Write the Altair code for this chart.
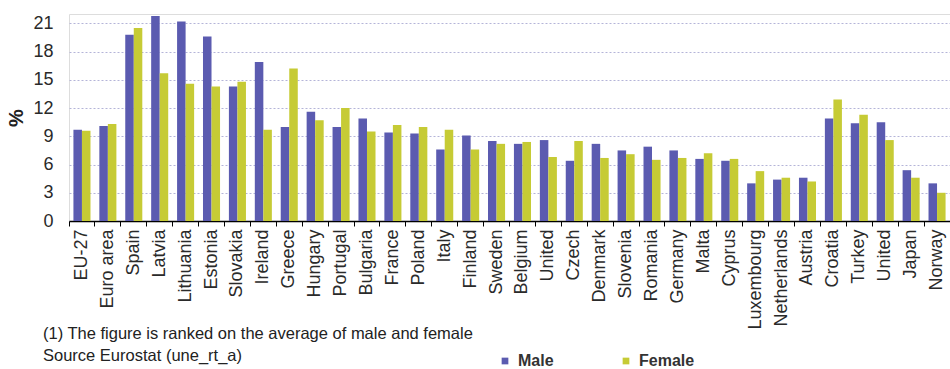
import altair as alt
import pandas as pd

# Unemployment rate by sex, 2012 (%), ranked on the male/female average
countries = [
    "EU-27", "Euro area", "Spain", "Latvia", "Lithuania", "Estonia", "Slovakia",
    "Ireland", "Greece", "Hungary", "Portugal", "Bulgaria", "France", "Poland",
    "Italy", "Finland", "Sweden", "Belgium", "United Kingdom", "Czech Republic",
    "Denmark", "Slovenia", "Romania", "Germany", "Malta", "Cyprus", "Luxembourg",
    "Netherlands", "Austria", "Croatia", "Turkey", "United States", "Japan", "Norway",
]
male = [
    9.7, 10.1, 19.8, 21.8, 21.2, 19.6, 14.3, 16.9, 10.0, 11.6, 10.0, 10.9, 9.4, 9.3,
    7.6, 9.1, 8.5, 8.2, 8.6, 6.4, 8.2, 7.5, 7.9, 7.5, 6.6, 6.4, 4.0, 4.4, 4.6,
    10.9, 10.4, 10.5, 5.4, 4.0,
]
female = [
    9.6, 10.3, 20.5, 15.7, 14.6, 14.3, 14.8, 9.7, 16.2, 10.7, 12.0, 9.5, 10.2, 10.0,
    9.7, 7.6, 8.2, 8.4, 6.8, 8.5, 6.7, 7.1, 6.5, 6.7, 7.2, 6.6, 5.3, 4.6, 4.2,
    12.9, 11.3, 8.6, 4.6, 3.0,
]
series = ["Male", "Female"]
series_colors = ["#5b5bb0", "#c6cb35"]
y_ticks = [0, 3, 6, 9, 12, 15, 18, 21]
note_ranking = "(1) The figure is ranked on the average of male and female"
note_source = "Source  Eurostat (une_rt_a)"

rows = []
for c, m, f in zip(countries, male, female):
    rows.append({"country": c, "sex": "Male", "rate": m})
    rows.append({"country": c, "sex": "Female", "rate": f})
df = pd.DataFrame(rows)

SANS = "Liberation Sans, Arial, sans-serif"

# long names are cut to their first word on the axis
short_label = "test(/^(United|Czech) /, datum.label) ? split(datum.label, ' ')[0] : datum.label"

bars = alt.Chart(df).mark_bar().encode(
    x=alt.X(
        "country:N", sort=countries, title=None,
        scale=alt.Scale(paddingInner=0, paddingOuter=0),
        axis=alt.Axis(
            labelAngle=270, labelExpr=short_label, bandPosition=0,
            tickSize=5, tickColor="black", domainColor="black", domainWidth=1.5,
            labelFont=SANS, labelFontSize=18, labelColor="#2a2a2a", labelPadding=3,
            grid=False,
        ),
    ),
    xOffset=alt.XOffset(
        "sex:N", sort=series,
        scale=alt.Scale(domain=series, paddingOuter=0.52, paddingInner=0),
    ),
    y=alt.Y(
        "rate:Q", title="%",
        scale=alt.Scale(domain=[0, 22], nice=False),
        axis=alt.Axis(
            values=y_ticks, domain=False, ticks=False, grid=True,
            gridDash=[2, 2], gridColor="#b4b4d8",
            labelFont=SANS, labelFontSize=18, labelColor="#2a2a2a", labelPadding=16,
            titleFont=SANS, titleFontWeight="bold", titleFontSize=20,
            titleColor="#222", titlePadding=6,
        ),
    ),
    color=alt.Color(
        "sex:N",
        scale=alt.Scale(domain=series, range=series_colors),
        legend=alt.Legend(
            orient="none", legendX=428, legendY=339, direction="horizontal",
            title=None, symbolType="square", symbolSize=45, symbolStrokeWidth=0,
            labelFont=SANS, labelFontWeight="bold", labelFontSize=16,
            labelColor="#333", labelOffset=5, columnPadding=64, padding=0,
        ),
    ),
)

ranking = alt.Chart(pd.DataFrame({"note": [note_ranking]})).mark_text(
    align="left", baseline="alphabetic", font=SANS, fontSize=16.5, color="#222"
).encode(text="note:N", x=alt.value(-26), y=alt.value(325))

source = alt.Chart(pd.DataFrame({"note": [note_source]})).mark_text(
    align="left", baseline="alphabetic", font=SANS, fontSize=16.5, color="#222"
).encode(text="note:N", x=alt.value(-26), y=alt.value(347))

chart = alt.layer(bars, ranking, source).properties(
    width=881, height=207,
    autosize=alt.AutoSizeParams(type="none"),
    padding={"left": 69, "top": 14, "right": 0, "bottom": 148},
).configure_view(stroke=None).configure(background="white")

chart.save("out.html", embed_options={"renderer": "svg", "actions": False})
